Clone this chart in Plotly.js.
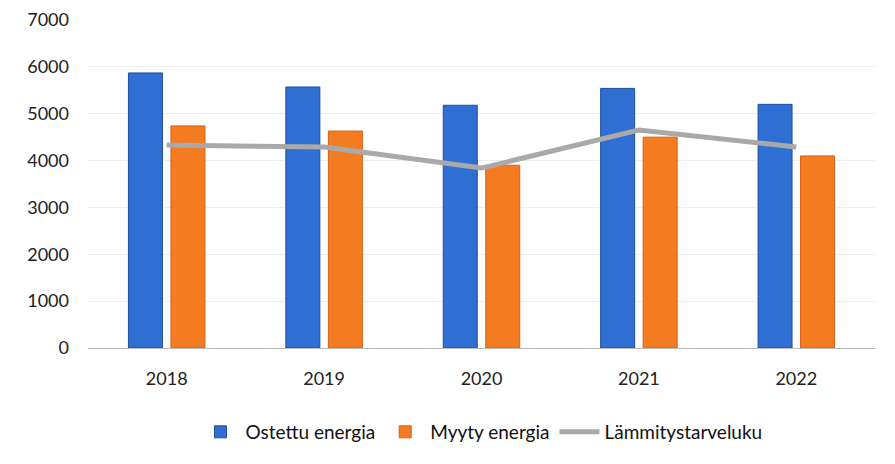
<!DOCTYPE html>
<html>
<head>
<meta charset="utf-8">
<script src="https://cdn.plot.ly/plotly-3.0.1.min.js"></script>
<style>html,body{margin:0;padding:0;background:#fff;}#chart{width:895px;height:464px;}</style>
</head>
<body>
<div id="chart"></div>
<script>
const years = ['2018', '2019', '2020', '2021', '2022'];
const ostettu = [5870, 5570, 5180, 5540, 5200];
const myyty = [4740, 4630, 3900, 4500, 4100];
const lammitystarveluku = [4330, 4290, 3840, 4650, 4290];
const yTicks = [0, 1000, 2000, 3000, 4000, 5000, 6000, 7000];

const traces = [
  {type: 'bar', name: 'Ostettu energia', x: years, y: ostettu,
   marker: {color: '#2f6fd3', line: {color: '#1f4fa0', width: 1}}},
  {type: 'bar', name: 'Myyty energia', x: years, y: myyty,
   marker: {color: '#f47b20', line: {color: '#d4601a', width: 1}}},
  {type: 'scatter', mode: 'lines', name: 'Lämmitystarveluku', x: years, y: lammitystarveluku,
   line: {color: '#a9a9a9', width: 5}}
];

const layout = {
  width: 895, height: 464,
  margin: {l: 88, r: 20, t: 20, b: 116},
  paper_bgcolor: '#ffffff', plot_bgcolor: '#ffffff',
  font: {family: 'Lato, "Open Sans", sans-serif', size: 18, color: '#222'},
  barmode: 'group', bargap: 0.46, bargroupgap: 0.2,
  showlegend: true,
  legend: {orientation: 'h', x: 0.5, xanchor: 'center', y: -0.256, yanchor: 'middle',
           font: {size: 19, color: '#111'}, traceorder: 'normal', itemwidth: 40},
  xaxis: {type: 'category', showgrid: false, showline: true, linecolor: '#bbbbbb', linewidth: 1,
          ticks: '', tickfont: {size: 18, color: '#222'}, ticklabelstandoff: 14},
  yaxis: {range: [0, 7000], tickvals: yTicks, ticktext: yTicks.map(String),
          showgrid: true, gridcolor: '#eeeeee', zeroline: false, showline: false,
          ticks: '', tickfont: {size: 18, color: '#222'}, ticklabelstandoff: 18}
};

Plotly.newPlot('chart', traces, layout, {displayModeBar: false, staticPlot: true});
</script>
</body>
</html>
